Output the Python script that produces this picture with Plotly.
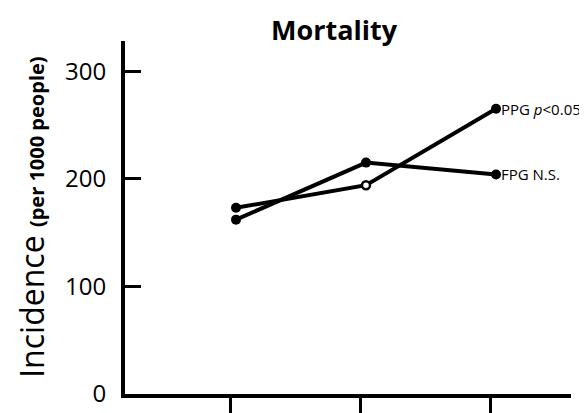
import plotly.graph_objects as go

x_pos = [1, 2, 3]
ppg = [173, 194, 265]
fpg = [162, 215, 204]
y_ticks = [0, 100, 200, 300]
series_labels = ["PPG <i>p</i>&lt;0.05", "FPG N.S."]

FONT = "Open Sans, sans-serif"

fig = go.Figure()
fig.add_trace(go.Scatter(
    x=x_pos, y=fpg, mode="lines+markers",
    line=dict(color="black", width=4),
    marker=dict(symbol="circle", size=10, color="black"),
    showlegend=False, cliponaxis=False))
fig.add_trace(go.Scatter(
    x=x_pos, y=ppg, mode="lines",
    line=dict(color="black", width=4),
    showlegend=False, cliponaxis=False))
fig.add_trace(go.Scatter(
    x=[x_pos[0], x_pos[2]], y=[ppg[0], ppg[2]], mode="markers",
    marker=dict(symbol="circle", size=10, color="black"),
    showlegend=False, cliponaxis=False))
fig.add_trace(go.Scatter(
    x=[x_pos[1]], y=[ppg[1]], mode="markers",
    marker=dict(symbol="circle", size=8, color="white",
                line=dict(width=2.5, color="black")),
    showlegend=False, cliponaxis=False))

for yv, txt in zip([ppg[-1], fpg[-1]], series_labels):
    fig.add_annotation(x=x_pos[-1], y=yv, text=txt, xref="x", yref="y",
                       xanchor="left", yanchor="middle", xshift=3, showarrow=False,
                       font=dict(family=FONT, size=15, color="black"))

fig.add_annotation(
    text="Incidence <span style='font-size:20px;font-weight:bold'>(per 1000 people)</span>",
    xref="paper", yref="paper", x=-0.21, y=0.5, textangle=-90,
    xanchor="center", yanchor="middle", showarrow=False,
    font=dict(family=FONT, size=32, color="black"))

fig.update_layout(
    width=587, height=413, autosize=False,
    margin=dict(l=117, r=24, t=33, b=15),
    paper_bgcolor="white", plot_bgcolor="white",
    title=dict(text="<b>Mortality</b>", x=326/587, xanchor="center",
               y=1 - 23/413, yanchor="middle",
               font=dict(family=FONT, size=27, color="black")),
    xaxis=dict(range=[0.146, 3.577], showgrid=False, zeroline=False,
               showline=True, linecolor="black", linewidth=4,
               ticks="outside", ticklen=15, tickwidth=2.5, tickcolor="black",
               tickvals=[v - 0.046 for v in x_pos], showticklabels=False),
    yaxis=dict(range=[0, 328], showgrid=False, zeroline=False,
               showline=True, linecolor="black", linewidth=4,
               ticks="inside", ticklen=16, tickwidth=2.5, tickcolor="black",
               tickvals=y_ticks, ticklabelstandoff=10,
               tickfont=dict(family=FONT, size=24, color="black")),
)

fig.write_html("out.html")
